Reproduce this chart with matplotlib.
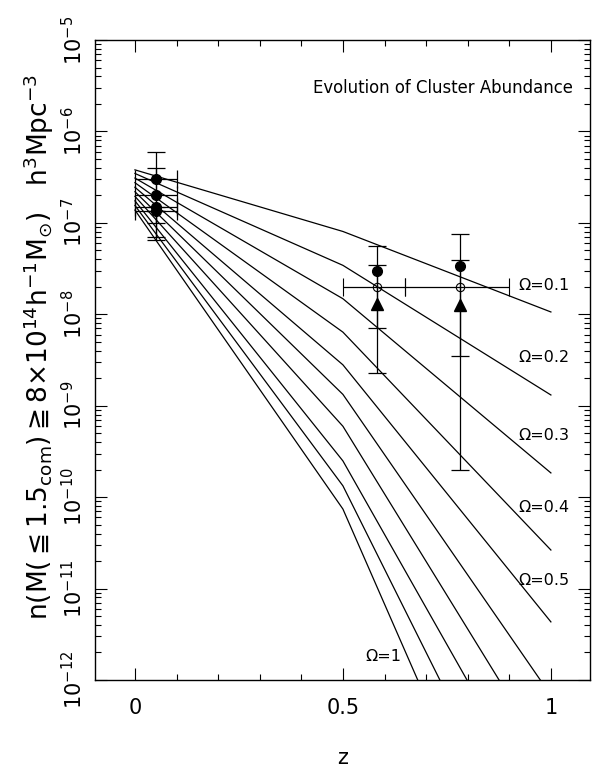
import matplotlib
matplotlib.use("Agg")
import matplotlib.pyplot as plt
from matplotlib.ticker import FixedLocator, LogLocator, NullFormatter
import numpy as np

# ---------------- data ----------------
omega_labels = ["0.1", "0.2", "0.3", "0.4", "0.5", "0.6", "0.7", "0.8", "0.9", "1"]
z_nodes = [0.0, 0.5, 1.0]
n_z0 = [3.8e-7, 3.47e-7, 3.09e-7, 2.75e-7, 2.45e-7, 2.19e-7, 1.95e-7, 1.74e-7, 1.55e-7, 1.38e-7]
n_z05 = [8.05e-8, 3.43e-8, 1.48e-8, 6.38e-9, 2.80e-9, 1.33e-9, 5.96e-10, 2.49e-10, 1.33e-10, 7.41e-11]
n_z1 = [1.06e-8, 1.31e-9, 1.84e-10, 2.64e-11, 4.32e-12, 6.8e-13, 1.2e-13, 2.4e-14, 3.7e-15, 4.7e-16]

# low-redshift cluster points (z ~ 0.05, bin 0-0.1)
lowz_z = [0.05, 0.05, 0.05, 0.05]
lowz_zlo = [0.0, 0.0, 0.0, 0.0]
lowz_zhi = [0.1, 0.1, 0.1, 0.1]
lowz_n = [3.0e-7, 2.0e-7, 1.5e-7, 1.35e-7]
lowz_hi = [6.0e-7, 4.0e-7, 1.5e-7, 1.35e-7]
lowz_lo = [7.0e-8, 1.0e-7, 6.5e-8, 1.35e-7]

# high-redshift points
hz_z = [0.582, 0.781]
filled_n = [3.0e-8, 3.4e-8]
filled_hi = [5.6e-8, 7.5e-8]
filled_lo = [7.0e-9, 3.5e-9]
tri_n = [1.3e-8, 1.25e-8]
tri_hi = [3.5e-8, 3.9e-8]
tri_lo = [2.3e-9, 2.0e-10]
open_n = [2.0e-8, 2.0e-8]
open_zlo = [0.5, 0.65]
open_zhi = [0.65, 0.9]

label_text = ["Ω=0.1", "Ω=0.2", "Ω=0.3", "Ω=0.4", "Ω=0.5", "Ω=1"]
label_z = [0.921, 0.921, 0.921, 0.921, 0.921, 0.553]
label_n = [2.09e-8, 3.4e-9, 4.67e-10, 7.8e-11, 1.24e-11, 1.79e-12]

ytick_vals = [1e-12, 1e-11, 1e-10, 1e-9, 1e-8, 1e-7, 1e-6, 1e-5]
ytick_labels = [r"$10^{-12}$", r"$10^{-11}$", r"$10^{-10}$", r"$10^{-9}$",
                r"$10^{-8}$", r"$10^{-7}$", r"$10^{-6}$", r"$10^{-5}$"]
xtick_vals = [0, 0.5, 1]
xtick_labels = ["0", "0.5", "1"]

# ---------------- plot ----------------
plt.rcParams["font.family"] = ["DejaVu Sans"]
plt.rcParams["mathtext.default"] = "regular"
plt.rcParams["mathtext.fontset"] = "dejavusans"

fig = plt.figure(figsize=(5.92, 7.68), dpi=100)
ax = fig.add_axes([95/592, 1-680/768, 495/592, 640/768])
ax.set_yscale("log")
ax.set_xlim(-0.096, 1.094)
ax.set_ylim(1e-12, 1e-5)

for i in range(len(omega_labels)):
    ax.plot(z_nodes, [n_z0[i], n_z05[i], n_z1[i]], color="black", lw=0.9, zorder=2)

ekw = dict(ecolor="black", elinewidth=0.9, capsize=6.5, capthick=0.9, zorder=3)
for i in range(len(lowz_n)):
    ax.errorbar([lowz_z[i]], [lowz_n[i]],
                xerr=[[lowz_z[i]-lowz_zlo[i]], [lowz_zhi[i]-lowz_z[i]]],
                yerr=[[lowz_n[i]-lowz_lo[i]], [lowz_hi[i]-lowz_n[i]]],
                fmt="o", ms=7, color="black", **ekw)

for i in range(len(hz_z)):
    ax.errorbar([hz_z[i]], [filled_n[i]],
                yerr=[[filled_n[i]-filled_lo[i]], [filled_hi[i]-filled_n[i]]],
                fmt="o", ms=7, color="black", **ekw)
    ax.errorbar([hz_z[i]], [tri_n[i]],
                yerr=[[tri_n[i]-tri_lo[i]], [tri_hi[i]-tri_n[i]]],
                fmt="^", ms=8, color="black", **ekw)
    ax.errorbar([hz_z[i]], [open_n[i]],
                xerr=[[hz_z[i]-open_zlo[i]], [open_zhi[i]-hz_z[i]]],
                fmt="o", ms=6, mfc="none", mec="black", mew=0.8, color="black", **ekw)

for t, zx, ny in zip(label_text, label_z, label_n):
    ax.text(zx, ny, t, fontsize=11.5, ha="left", va="center")

ax.text(0.9657, 0.925, "Evolution of Cluster Abundance", transform=ax.transAxes,
        fontsize=11.9, ha="right", va="center")

ax.xaxis.set_major_locator(FixedLocator(xtick_vals))
ax.xaxis.set_minor_locator(FixedLocator([0.1, 0.2, 0.3, 0.4, 0.6, 0.7, 0.8, 0.9]))
ax.set_xticklabels(xtick_labels)
ax.yaxis.set_major_locator(FixedLocator(ytick_vals))
ax.yaxis.set_minor_locator(LogLocator(base=10, subs=np.arange(2, 10), numticks=20))
ax.yaxis.set_minor_formatter(NullFormatter())
ax.set_yticklabels(ytick_labels)

ax.tick_params(which="both", direction="in", top=True, right=True, width=0.8)
ax.tick_params(which="major", length=8.5)
ax.tick_params(which="minor", length=4.3)
ax.tick_params(axis="x", labelsize=15, pad=13)
ax.tick_params(axis="y", labelsize=15, pad=6, labelrotation=90)
for lab in ax.get_yticklabels():
    lab.set_va("center")
for s in ax.spines.values():
    s.set_linewidth(1.0)

fig.text(39/592, 1-347/768,
         r"$n(M(\leqq 1.5_{com})\geqq 8{\times}10^{14}h^{-1}M_{\odot})\ \ \ h^{3}Mpc^{-3}$",
         rotation=90, ha="center", va="center", fontsize=19)
fig.text(343/592, 1-758/768, "z", ha="center", va="center", fontsize=15)

fig.savefig("out.png", dpi=100)
